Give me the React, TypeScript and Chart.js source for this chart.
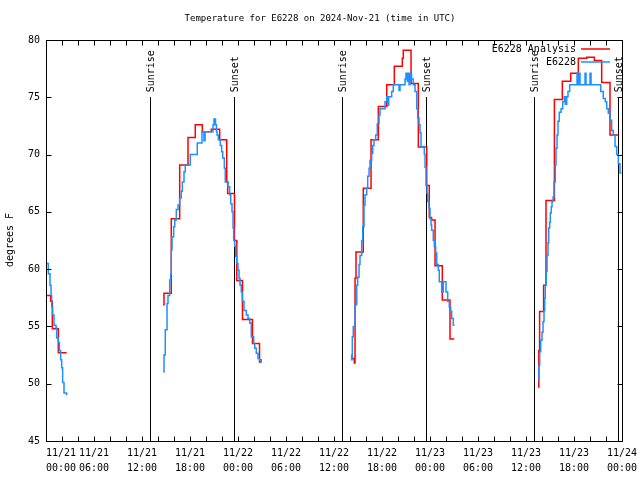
import React, { useEffect, useRef } from "react";
import { Chart, registerables } from "chart.js";

Chart.register(...registerables);

// time in hours since 2024-11-21 00:00 UTC, temperature in degrees F
const analysisSeg1: [number, number][] = [
  [0.08, 57.7], [0.58, 57.2], [0.79, 54.8], [1.54, 52.7], [2.58, 52.7],
];
const analysisSeg2: [number, number][] = [
  [14.63, 56.9], [14.75, 57.9], [15.66, 64.4], [16.71, 69.1], [17.75, 71.5],
  [18.66, 72.6], [19.54, 72.0], [20.66, 72.2], [21.71, 71.3], [22.59, 67.6],
  [22.71, 66.6], [23.56, 62.5], [23.85, 59.0], [24.56, 55.6], [25.81, 53.5],
  [26.69, 51.9], [26.94, 51.9],
];
const analysisSeg3: [number, number][] = [
  [38.29, 52.2], [38.54, 51.8], [38.63, 59.2], [38.75, 61.5], [39.66, 67.05],
  [40.63, 71.3], [41.54, 74.2], [42.59, 76.1], [43.54, 77.7], [44.54, 78.4],
  [44.66, 79.1], [45.63, 76.2], [46.54, 70.65], [47.59, 67.3], [47.91, 64.5],
  [48.2, 64.3], [48.63, 60.3], [49.54, 57.3], [50.5, 53.9], [51.04, 53.9],
];
const analysisSeg4: [number, number][] = [
  [61.54, 49.7], [61.6, 52.9], [61.7, 56.3], [62.2, 58.6], [62.5, 66.0],
  [63.55, 74.8], [64.54, 76.4], [65.59, 77.1], [66.54, 78.4], [67.59, 78.5],
  [68.54, 78.2], [69.46, 76.3], [70.5, 71.7], [71.56, 71.7],
];

const obsSeg1: [number, number][] = [
  [0.08, 60.5], [0.29, 59.6], [0.5, 58.6], [0.63, 57.7], [0.71, 56.7],
  [0.83, 56.0], [1.0, 55.1], [1.25, 54.9], [1.33, 54.0], [1.54, 53.6],
  [1.67, 52.9], [1.83, 52.1], [1.96, 51.4], [2.08, 50.1], [2.25, 49.2],
  [2.58, 49.0],
];
const obsSeg2: [number, number][] = [
  [14.63, 51.05], [14.75, 52.5], [14.91, 54.7], [15.13, 57.0], [15.25, 57.7],
  [15.46, 59.05], [15.59, 59.6], [15.66, 61.7], [15.75, 62.8], [15.96, 63.7],
  [16.09, 64.3], [16.29, 65.2], [16.5, 65.6], [16.71, 66.2], [16.91, 66.8],
  [17.04, 67.6], [17.25, 68.5], [17.41, 69.1], [18.04, 70.0], [18.91, 71.0],
  [19.5, 72.0], [19.75, 71.2], [19.88, 72.0], [20.88, 72.6], [21.0, 73.1],
  [21.19, 72.6], [21.31, 72.0], [21.38, 71.7], [21.54, 71.3], [21.79, 70.8],
  [21.96, 70.25], [22.09, 69.7], [22.29, 68.8], [22.41, 67.6], [22.75, 67.2],
  [22.96, 66.5], [23.09, 65.7], [23.25, 65.0], [23.38, 63.6], [23.46, 62.5],
  [23.59, 62.0], [23.71, 61.1], [23.84, 60.5], [24.0, 59.9], [24.13, 59.2],
  [24.25, 58.6], [24.41, 58.0], [24.54, 57.2], [24.75, 56.4], [25.04, 56.0],
  [25.25, 55.7], [25.46, 55.3], [25.66, 54.1], [25.96, 53.5], [26.09, 53.1],
  [26.29, 52.65], [26.5, 52.2], [26.71, 52.1], [26.91, 51.9], [27.0, 51.9],
];
const obsSeg3: [number, number][] = [
  [38.13, 52.5], [38.2, 52.1], [38.29, 54.1], [38.41, 55.0], [38.63, 56.9],
  [38.84, 58.6], [38.96, 59.3], [39.13, 60.4], [39.25, 61.2], [39.46, 62.5],
  [39.59, 63.7], [39.75, 65.6], [39.88, 66.5], [40.09, 67.05], [40.21, 68.1],
  [40.38, 68.8], [40.5, 69.5], [40.71, 70.1], [40.84, 70.8], [41.0, 71.3],
  [41.21, 71.7], [41.41, 72.7], [41.63, 73.45], [41.75, 74.0], [42.38, 74.6],
  [42.59, 75.05], [42.75, 74.3], [42.84, 75.05], [43.21, 75.5], [43.41, 76.1],
  [44.13, 75.6], [44.25, 76.1], [44.88, 76.6], [45.0, 77.1], [45.16, 76.4],
  [45.29, 77.1], [45.38, 76.1], [45.5, 77.1], [45.69, 76.6], [45.91, 76.1],
  [46.13, 75.5], [46.34, 74.0], [46.46, 73.2], [46.63, 72.6], [46.75, 71.9],
  [46.88, 70.7], [47.29, 70.0], [47.38, 68.9], [47.5, 67.3], [47.63, 66.6],
  [47.71, 65.9], [47.88, 65.3], [48.0, 64.4], [48.13, 63.85], [48.21, 63.4],
  [48.41, 62.5], [48.54, 61.95], [48.71, 61.4], [48.84, 60.4], [49.04, 59.9],
  [49.16, 58.9], [49.46, 58.0], [49.66, 58.9], [50.0, 58.0], [50.21, 57.2],
  [50.41, 56.7], [50.59, 56.3], [50.71, 55.7], [50.91, 55.1], [51.06, 55.1],
];
const obsSeg4: [number, number][] = [
  [61.59, 50.3], [61.61, 51.6], [61.71, 52.8], [61.84, 53.8], [62.0, 54.5],
  [62.13, 55.4], [62.25, 56.4], [62.34, 57.45], [62.41, 58.6], [62.54, 59.8],
  [62.63, 61.2], [62.75, 62.3], [62.84, 63.6], [62.96, 64.1], [63.04, 64.9],
  [63.16, 65.45], [63.25, 65.9], [63.38, 66.3], [63.5, 67.6], [63.66, 69.1],
  [63.75, 70.55], [63.88, 71.7], [64.0, 72.9], [64.16, 73.7], [64.38, 74.0],
  [64.59, 74.6], [64.79, 75.05], [64.91, 74.4], [65.09, 75.05], [65.25, 75.5],
  [65.46, 76.1], [66.38, 77.1], [66.5, 76.1], [66.63, 77.1], [66.75, 76.1],
  [67.38, 77.1], [67.5, 76.1], [68.0, 77.1], [68.13, 76.1], [69.34, 75.5],
  [69.66, 74.9], [69.91, 74.6], [70.09, 74.0], [70.29, 73.6], [70.5, 73.0],
  [70.71, 72.1], [70.91, 71.7], [71.13, 70.7], [71.34, 70.0], [71.54, 69.2],
  [71.75, 68.4], [71.94, 68.4],
];

const sunTimes = [13.0625, 23.5625, 37.0625, 47.5625, 61.0625, 71.5625];
const sunLabels = ["Sunrise", "Sunset", "Sunrise", "Sunset", "Sunrise", "Sunset"];
const sunLineTop = 75;

const xTickHours = [0, 6, 12, 18, 24, 30, 36, 42, 48, 54, 60, 66, 72];
const xTickDates = ["11/21", "11/21", "11/21", "11/21", "11/22", "11/22", "11/22", "11/22", "11/23", "11/23", "11/23", "11/23", "11/24"];
const xTickTimes = ["00:00", "06:00", "12:00", "18:00", "00:00", "06:00", "12:00", "18:00", "00:00", "06:00", "12:00", "18:00", "00:00"];
const yTickValues = [45, 50, 55, 60, 65, 70, 75, 80];

const titleText = "Temperature for E6228 on 2024-Nov-21 (time in UTC)";
const yAxisTitle = "degrees F";
const seriesNames = ["E6228 Analysis", "E6228"];

const FONT = '"DejaVu Sans Mono", monospace';
const RED = "#ff0000";
const BLUE = "#1e90ff";

function joinSegments(segs: [number, number][][]) {
  const out: { x: number; y: number | null }[] = [];
  segs.forEach((s, i) => {
    if (i > 0) {
      const prev = segs[i - 1];
      out.push({ x: (prev[prev.length - 1][0] + s[0][0]) / 2, y: null });
    }
    s.forEach(([x, y]) => out.push({ x, y }));
  });
  return out;
}

const decorPlugin = {
  id: "decor",
  afterDraw(chart: any) {
    const { ctx, chartArea: a, scales } = chart;
    const xs = scales.x;
    const ys = scales.y;
    const L = Math.round(a.left) + 0.5;
    const R = Math.round(a.right) + 0.5;
    const T = Math.round(a.top) + 0.5;
    const B = Math.round(a.bottom) + 0.5;
    ctx.save();
    ctx.strokeStyle = "#000";
    ctx.lineWidth = 1;
    ctx.beginPath();
    ctx.rect(L, T, R - L, B - T);
    yTickValues.forEach((v) => {
      const py = Math.round(ys.getPixelForValue(v)) + 0.5;
      ctx.moveTo(L, py);
      ctx.lineTo(L + 5, py);
      ctx.moveTo(R, py);
      ctx.lineTo(R - 5, py);
    });
    for (let h = 0; h <= 72; h += 2) {
      const px = Math.round(xs.getPixelForValue(h)) + 0.5;
      ctx.moveTo(px, B);
      ctx.lineTo(px, B - 5);
      ctx.moveTo(px, T);
      ctx.lineTo(px, T + 5);
    }
    ctx.stroke();

    ctx.fillStyle = "#000";
    ctx.font = `10px ${FONT}`;
    ctx.textBaseline = "middle";
    xTickHours.forEach((h, i) => {
      const px = xs.getPixelForValue(h);
      const w = ctx.measureText(xTickDates[i]).width;
      let cx = px;
      if (cx - w / 2 < a.left) cx = a.left + w / 2;
      ctx.textAlign = "center";
      ctx.fillText(xTickDates[i], cx, 453);
      ctx.fillText(xTickTimes[i], cx, 468);
    });

    ctx.save();
    ctx.font = `9px ${FONT}`;
    ctx.textAlign = "center";
    ctx.fillText(titleText, 320, 19);
    ctx.restore();

    ctx.save();
    ctx.translate(10, 240);
    ctx.rotate(-Math.PI / 2);
    ctx.textAlign = "center";
    ctx.fillText(yAxisTitle, 0, 0);
    ctx.restore();

    sunTimes.forEach((t, i) => {
      const px = xs.getPixelForValue(t);
      const py = ys.getPixelForValue(sunLineTop);
      ctx.save();
      ctx.translate(px + 1, py - 5);
      ctx.rotate(-Math.PI / 2);
      ctx.textAlign = "left";
      ctx.textBaseline = "middle";
      ctx.fillText(sunLabels[i], 0, 0);
      ctx.restore();
    });

    const legendColors = [RED, BLUE];
    seriesNames.forEach((name, i) => {
      const ly = 49 + i * 13;
      ctx.textAlign = "right";
      ctx.textBaseline = "middle";
      ctx.fillStyle = "#000";
      ctx.fillText(name, 576, ly);
      ctx.strokeStyle = legendColors[i];
      ctx.lineWidth = 1.5;
      ctx.beginPath();
      ctx.moveTo(581, ly);
      ctx.lineTo(610, ly);
      ctx.stroke();
    });
    ctx.restore();
  },
};

export default function App() {
  const ref = useRef<HTMLCanvasElement | null>(null);
  useEffect(() => {
    document.body.style.margin = "0";
    const canvas = ref.current;
    if (!canvas) return;
    const sunDatasets = sunTimes.map((t) => ({
      label: "sun",
      data: [
        { x: t, y: sunLineTop },
        { x: t, y: 45 },
      ],
      borderColor: "#000",
      borderWidth: 1,
      pointRadius: 0,
      order: 2,
    }));
    const chart = new Chart(canvas, {
      type: "line",
      data: {
        datasets: [
          {
            label: seriesNames[1],
            data: joinSegments([obsSeg1, obsSeg2, obsSeg3, obsSeg4]),
            borderColor: BLUE,
            borderWidth: 1.5,
            pointRadius: 0,
            stepped: true,
            spanGaps: false,
            order: 0,
          },
          {
            label: seriesNames[0],
            data: joinSegments([analysisSeg1, analysisSeg2, analysisSeg3, analysisSeg4]),
            borderColor: RED,
            borderWidth: 1.5,
            pointRadius: 0,
            stepped: true,
            spanGaps: false,
            order: 1,
          },
          ...sunDatasets,
        ] as any,
      },
      options: {
        responsive: false,
        animation: false,
        devicePixelRatio: 1,
        layout: { padding: { top: 40, right: 18, left: 0, bottom: 0 } },
        plugins: {
          legend: { display: false },
          title: { display: false },
          tooltip: { enabled: false },
        },
        scales: {
          x: {
            type: "linear",
            min: 0,
            max: 72,
            grid: { display: false, drawTicks: false },
            border: { display: false },
            ticks: { display: false },
            afterFit: (s: any) => {
              s.height = 39;
            },
          },
          y: {
            type: "linear",
            min: 45,
            max: 80,
            grid: { display: false, drawTicks: false },
            border: { display: false },
            ticks: {
              stepSize: 5,
              padding: 6,
              color: "#000",
              font: { family: FONT, size: 10 },
            },
            afterFit: (s: any) => {
              s.width = 46;
            },
          },
        },
      } as any,
      plugins: [decorPlugin],
    });
    return () => chart.destroy();
  }, []);
  return (
    <div style={{ position: "absolute", left: 0, top: 0, width: 640, height: 480 }}>
      <canvas ref={ref} width={640} height={480} />
    </div>
  );
}
